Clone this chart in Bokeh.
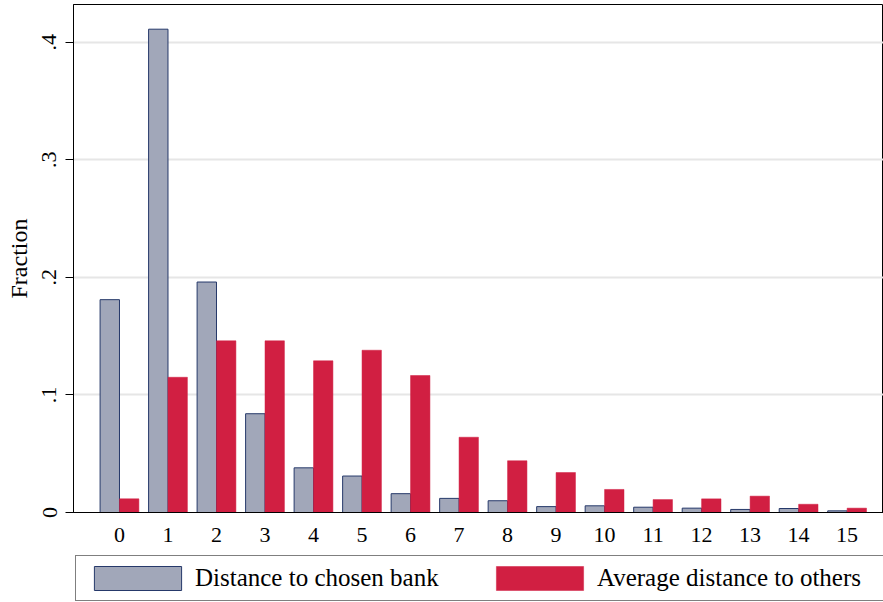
from bokeh.plotting import figure
from bokeh.models import ColumnDataSource, FixedTicker, Legend, LegendItem, Range1d
from bokeh.transform import dodge
from bokeh.layouts import column
from bokeh.embed import file_html
from bokeh.resources import INLINE

# ---- data ----
distance = list(range(16))
tick_labels = [str(d) for d in distance]
chosen_bank = [0.181, 0.411, 0.196, 0.084, 0.038, 0.031, 0.016, 0.012,
               0.010, 0.005, 0.0057, 0.0045, 0.0037, 0.0026, 0.0034, 0.0014]
avg_others = [0.0116, 0.115, 0.146, 0.146, 0.129, 0.138, 0.1165, 0.064,
              0.044, 0.034, 0.0196, 0.011, 0.0116, 0.0139, 0.007, 0.0037]
y_ticks = [0, 0.1, 0.2, 0.3, 0.4]
y_tick_labels = ["0", ".1", ".2", ".3", ".4"]
series_names = ["Distance to chosen bank", "Average distance to others"]

GREY = "#a1a7b9"
NAVY = "#26396a"
RED = "#d11f42"
FONT = "Liberation Serif"

src = ColumnDataSource(dict(x=distance, chosen=chosen_bank, others=avg_others))

p = figure(width=883, height=552, output_backend="svg", toolbar_location=None,
           x_range=Range1d(-0.948, 15.75), y_range=Range1d(0, 0.432),
           min_border_left=73, min_border_right=0, min_border_top=4,
           min_border_bottom=40)

p.vbar(x=dodge("x", -0.2), top="chosen", width=0.4, source=src,
       fill_color=GREY, line_color=NAVY, line_width=1)
p.vbar(x=dodge("x", 0.2), top="others", width=0.4, source=src,
       fill_color=RED, line_color=RED, line_width=0.5)

# frame
p.outline_line_color = "black"
p.outline_line_width = 1
p.background_fill_color = "white"
p.border_fill_color = "white"

# grid
p.xgrid.grid_line_color = None
p.ygrid.ticker = FixedTicker(ticks=y_ticks)
p.ygrid.grid_line_color = "#e6e6e6"
p.ygrid.grid_line_width = 2

# x axis
xa = p.xaxis[0]
xa.ticker = FixedTicker(ticks=distance)
xa.major_label_overrides = {d: lab for d, lab in zip(distance, tick_labels)}
xa.major_tick_out = 0
xa.major_tick_in = 0
xa.minor_tick_line_color = None
xa.axis_line_color = "black"
xa.axis_line_width = 1
xa.major_label_text_font = FONT
xa.major_label_text_font_size = "22px"
xa.major_label_text_color = "black"
xa.major_label_standoff = 15

# y axis
ya = p.yaxis[0]
ya.ticker = FixedTicker(ticks=y_ticks)
ya.major_label_overrides = {t: lab for t, lab in zip(y_ticks, y_tick_labels)}
ya.major_label_orientation = "vertical"
ya.major_tick_out = 8
ya.major_tick_in = 0
ya.minor_tick_line_color = None
ya.axis_line_color = "black"
ya.axis_line_width = 1
ya.major_tick_line_color = "black"
ya.major_label_text_font = FONT
ya.major_label_text_font_size = "22px"
ya.major_label_text_color = "black"
ya.major_label_standoff = 9
ya.axis_label = "Fraction"
ya.axis_label_text_font = FONT
ya.axis_label_text_font_size = "24px"
ya.axis_label_text_font_style = "normal"
ya.axis_label_text_color = "black"
ya.axis_label_standoff = 8

# ---- legend strip below the chart (keys reuse the bar styles; bars out of view) ----
leg = figure(width=883, height=50, output_backend="svg", toolbar_location=None,
             x_range=Range1d(-200, -199), y_range=Range1d(0, 1),
             x_axis_location=None, y_axis_location=None,
             min_border_left=0, min_border_right=0, min_border_top=0,
             min_border_bottom=0)
leg.grid.visible = False
leg.outline_line_color = None
leg.background_fill_color = "white"
leg.border_fill_color = "white"
k1 = leg.vbar(x=dodge("x", -0.2), top="chosen", width=0.4, source=src,
              fill_color=GREY, line_color=NAVY, line_width=1)
k2 = leg.vbar(x=dodge("x", 0.2), top="others", width=0.4, source=src,
              fill_color=RED, line_color=RED, line_width=0.5)

legend = Legend(items=[LegendItem(label=series_names[0], renderers=[k1]),
                       LegendItem(label=series_names[1], renderers=[k2])],
                orientation="horizontal", location=(2, 1),
                glyph_width=109, glyph_height=30, label_standoff=3,
                label_width=290, spacing=-20, padding=7, margin=0,
                border_line_color="black", border_line_width=1,
                background_fill_color="white", background_fill_alpha=1,
                label_text_font=FONT, label_text_font_size="25px",
                label_text_color="black")
leg.add_layout(legend, "center")

open("out.html", "w").write(file_html(column(p, leg, spacing=0), INLINE))
